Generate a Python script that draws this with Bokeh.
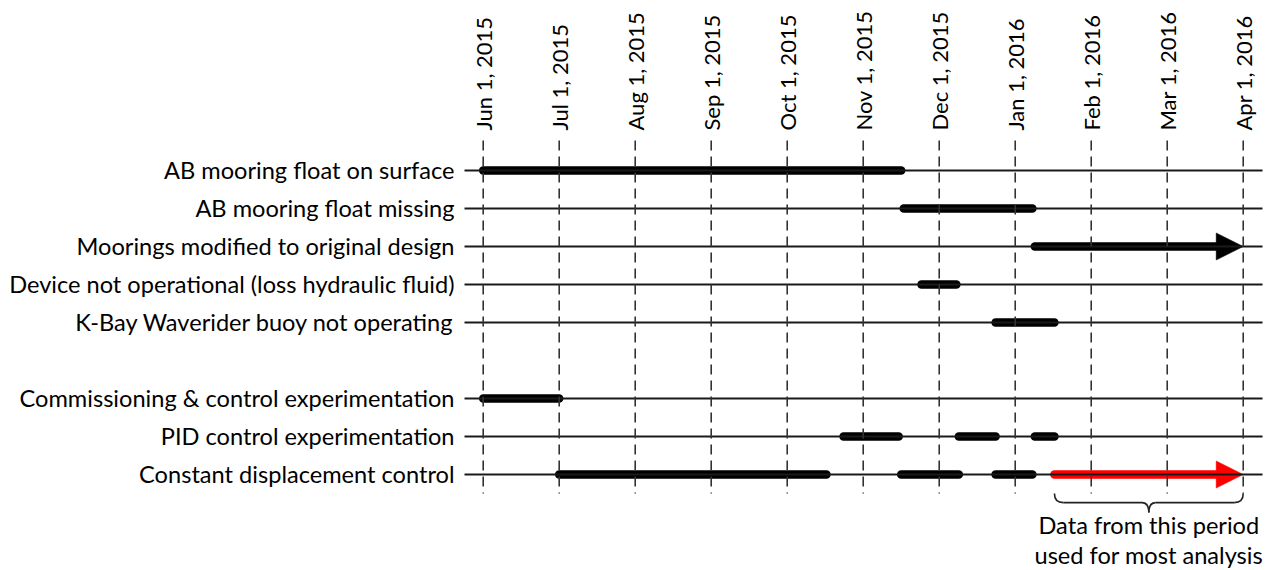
import math
import calendar
from bokeh.plotting import figure
from bokeh.models import ColumnDataSource, Range1d, LinearAxis, FixedTicker, Arrow, NormalHead
from bokeh.core.properties import value
from bokeh.embed import file_html
from bokeh.resources import INLINE

# ---------------- data ----------------
tick_dates = ["2015-06-01", "2015-07-01", "2015-08-01", "2015-09-01", "2015-10-01", "2015-11-01",
              "2015-12-01", "2016-01-01", "2016-02-01", "2016-03-01", "2016-04-01"]
tick_labels = ["Jun 1, 2015", "Jul 1, 2015", "Aug 1, 2015", "Sep 1, 2015", "Oct 1, 2015", "Nov 1, 2015",
               "Dec 1, 2015", "Jan 1, 2016", "Feb 1, 2016", "Mar 1, 2016", "Apr 1, 2016"]

categories = ["AB mooring float on surface",
              "AB mooring float missing",
              "Moorings modified to original design",
              "Device not operational (loss hydraulic fluid)",
              "K-Bay Waverider buoy not operating",
              "Commissioning & control experimentation",
              "PID control experimentation",
              "Constant displacement control"]
category_rows = [0, 1, 2, 3, 4, 6, 7, 8]

bar_category = ["AB mooring float on surface",
                "AB mooring float missing",
                "Device not operational (loss hydraulic fluid)",
                "K-Bay Waverider buoy not operating",
                "Commissioning & control experimentation",
                "PID control experimentation",
                "PID control experimentation",
                "PID control experimentation",
                "Constant displacement control",
                "Constant displacement control",
                "Constant displacement control"]
bar_start = ["2015-06-01", "2015-11-17", "2015-11-24", "2015-12-24", "2015-06-01",
             "2015-10-24", "2015-12-09", "2016-01-09", "2015-07-01", "2015-11-16", "2015-12-24"]
bar_end = ["2015-11-16", "2016-01-08", "2015-12-08", "2016-01-17", "2015-07-01",
           "2015-11-15", "2015-12-24", "2016-01-17", "2015-10-17", "2015-12-09", "2016-01-08"]

arrow_category = ["Moorings modified to original design", "Constant displacement control"]
arrow_start = ["2016-01-09", "2016-01-17"]
arrow_end = ["2016-04-01", "2016-04-01"]
arrow_color = ["black", "#ff0000"]

bracket_text = ["Data from this period", "used for most analysis"]

FONT = "Lato"
FS_TICK = "22px"
FS_LABEL = "23.6px"
PX_PER_MONTH = 76.0
HEAD = 27


def month_pos(s):
    y, m, d = map(int, s.split("-"))
    idx = (y - 2015) * 12 + (m - 6)
    return idx + (d - 1) / calendar.monthrange(y, m)[1]


row_of = dict(zip(categories, category_rows))
tick_pos = [month_pos(s) for s in tick_dates]

p = figure(width=1270, height=568,
           x_range=Range1d(-0.325, 10.359), y_range=Range1d(10.474, -0.789),
           output_backend="svg", toolbar_location=None,
           x_axis_location=None, y_axis_location=None,
           min_border_left=458, min_border_top=140, min_border_right=0, min_border_bottom=0)
p.outline_line_color = None
p.grid.visible = False
p.background_fill_color = "white"

xa = LinearAxis(ticker=FixedTicker(ticks=tick_pos),
                major_label_overrides={t: l for t, l in zip(tick_pos, tick_labels)},
                major_label_orientation=math.pi / 2,
                axis_line_color=None, major_tick_line_color=None, minor_tick_line_color=None,
                major_tick_in=0, major_tick_out=0, minor_tick_in=0, minor_tick_out=0,
                major_label_standoff=10,
                major_label_text_font=FONT, major_label_text_font_size=FS_TICK,
                major_label_text_color="black")
p.add_layout(xa, "above")

ya = LinearAxis(ticker=FixedTicker(ticks=category_rows),
                major_label_overrides={r: c for r, c in zip(category_rows, categories)},
                axis_line_color=None, major_tick_line_color=None, minor_tick_line_color=None,
                major_tick_in=0, major_tick_out=0, minor_tick_in=0, minor_tick_out=0,
                major_label_standoff=4,
                major_label_text_font=FONT, major_label_text_font_size=FS_LABEL,
                major_label_text_color="black")
p.add_layout(ya, "left")

# bars
bsrc = ColumnDataSource(dict(x0=[month_pos(s) for s in bar_start],
                             x1=[month_pos(s) for s in bar_end],
                             y=[row_of[c] for c in bar_category]))
p.segment(x0="x0", y0="y", x1="x1", y1="y", source=bsrc,
          line_width=8.5, line_cap="round", line_color="black")

# arrows: shaft (round start cap, ends inside the head) + head only
asrc = ColumnDataSource(dict(x0=[month_pos(s) for s in arrow_start],
                             x1=[month_pos(e) - 16 / PX_PER_MONTH for e in arrow_end],
                             y=[row_of[c] for c in arrow_category],
                             color=arrow_color))
p.segment(x0="x0", y0="y", x1="x1", y1="y", source=asrc,
          line_width=8.5, line_cap="round", line_color="color")
for cat, s, e, col in zip(arrow_category, arrow_start, arrow_end, arrow_color):
    yy = row_of[cat]
    p.add_layout(Arrow(end=NormalHead(size=HEAD, fill_color=col, line_color=col, line_width=0.5),
                       x_start=month_pos(e) - 0.5, y_start=yy, x_end=month_pos(e), y_end=yy,
                       line_color=None, level="glyph"))

# row lines (on top)
x_line0 = -0.246
x_line1 = 10.254
p.segment(x0=[x_line0] * len(category_rows), y0=category_rows,
          x1=[x_line1] * len(category_rows), y1=category_rows,
          line_width=2, line_color="#1a1a1a", level="overlay")

# dashed verticals
y_top = -0.789
y_bot = 8.5
p.segment(x0=tick_pos, y0=[y_top] * len(tick_pos), x1=tick_pos, y1=[y_bot] * len(tick_pos),
          line_width=1.6, line_color="#333333", line_dash="10 6", level="overlay")

# brace under red arrow
bx0 = month_pos(arrow_start[1])
bx1 = month_pos(arrow_end[1])
xm = (bx0 + bx1) / 2
by0, by1, by2 = 8.5, 8.74, 9.0
r = 0.118
rt = 0.09
p.quadratic(x0=[bx0, xm - rt, xm + rt, bx1], y0=[by0, by1, by1, by0],
            x1=[bx0 + r, xm, xm, bx1 - r], y1=[by1, by2, by2, by1],
            cx=[bx0, xm, xm, bx1], cy=[by1, by1, by1, by1],
            line_color="#222222", line_width=1.6)
p.segment(x0=[bx0 + r, xm + rt], y0=[by1, by1], x1=[xm - rt, bx1 - r], y1=[by1, by1],
          line_color="#222222", line_width=1.6)

p.text(x=[xm, xm], y=[9.34, 10.13], text=bracket_text,
       text_align="center", text_baseline="middle",
       text_font=value(FONT), text_font_size=FS_LABEL, text_color="black")

open("out.html", "w").write(file_html(p, INLINE))
